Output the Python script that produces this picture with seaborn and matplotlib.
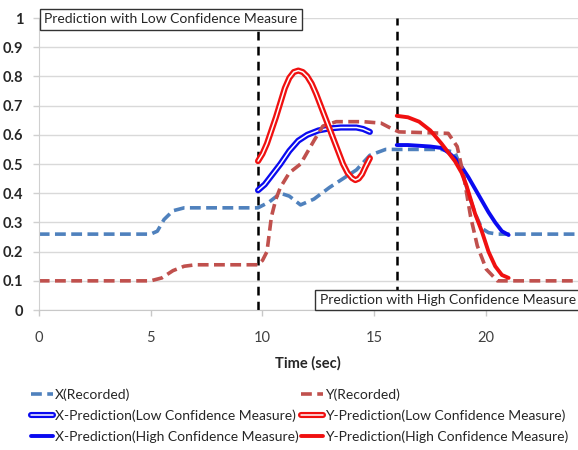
import numpy as np
import pandas as pd
import matplotlib
matplotlib.use("Agg")
import matplotlib.pyplot as plt
import matplotlib.patheffects as pe
import seaborn as sns

# ---- data ----
x_rec_t = [0, 5.0, 5.3, 5.6, 6.0, 6.5, 9.0, 9.8, 10.3, 10.8, 11.2, 11.7, 12.3, 13.0,
           13.6, 14.2, 14.8, 15.5, 16.5, 18.0, 18.6, 18.9, 19.2, 19.5, 19.8, 20.1, 20.5, 24.1]
x_rec_v = [0.26, 0.26, 0.27, 0.31, 0.34, 0.35, 0.35, 0.35, 0.37, 0.40, 0.39, 0.36, 0.38, 0.42,
           0.45, 0.48, 0.53, 0.55, 0.55, 0.55, 0.54, 0.48, 0.40, 0.33, 0.28, 0.265, 0.26, 0.26]

y_rec_t = [0, 5.0, 5.5, 6.0, 6.5, 7.0, 9.8, 10.0, 10.2, 10.4, 10.6, 10.8, 11.2, 11.7, 12.3,
           12.7, 13.3, 14.5, 15.3, 15.8, 16.1, 18.3, 18.7, 19.0, 19.3, 19.6, 20.0, 20.5, 24.1]
y_rec_v = [0.10, 0.10, 0.11, 0.135, 0.15, 0.155, 0.155, 0.17, 0.20, 0.32, 0.38, 0.42, 0.47,
           0.50, 0.58, 0.63, 0.645, 0.645, 0.64, 0.62, 0.61, 0.605, 0.56, 0.455, 0.32, 0.22,
           0.14, 0.10, 0.10]

x_low_t = [9.8, 10.1, 10.4, 10.8, 11.2, 11.6, 12.0, 12.5, 13.0, 13.5, 14.2, 14.5, 14.8]
x_low_v = [0.41, 0.43, 0.46, 0.50, 0.545, 0.58, 0.60, 0.615, 0.622, 0.625, 0.625, 0.62, 0.61]

y_low_t = [9.8, 10.0, 10.2, 10.4, 10.6, 10.8, 11.0, 11.2, 11.4, 11.6, 11.8, 12.0, 12.2, 12.4,
           12.7, 13.0, 13.3, 13.6, 13.8, 14.0, 14.15, 14.3, 14.45, 14.6, 14.8]
y_low_v = [0.51, 0.535, 0.57, 0.615, 0.66, 0.71, 0.76, 0.795, 0.815, 0.82, 0.815, 0.80, 0.775,
           0.74, 0.68, 0.62, 0.56, 0.50, 0.47, 0.452, 0.445, 0.45, 0.465, 0.49, 0.52]

x_high_t = [16.0, 16.5, 17.5, 18.0, 18.3, 18.6, 18.9, 19.2, 19.5, 19.8, 20.1, 20.4, 20.7, 21.0]
x_high_v = [0.565, 0.565, 0.56, 0.555, 0.54, 0.52, 0.49, 0.455, 0.415, 0.375, 0.335, 0.30,
            0.27, 0.257]

y_high_t = [16.0, 16.5, 17.0, 17.5, 18.0, 18.3, 18.6, 18.9, 19.1, 19.3, 19.5, 19.8, 20.1,
            20.4, 20.7, 21.0]
y_high_v = [0.665, 0.66, 0.645, 0.615, 0.57, 0.54, 0.51, 0.47, 0.43, 0.38, 0.33, 0.27, 0.20,
            0.15, 0.12, 0.11]

boundaries = [9.8, 16.0]
x_ticks = [0, 5, 10, 15, 20]
y_ticks = [0, 0.1, 0.2, 0.3, 0.4, 0.5, 0.6, 0.7, 0.8, 0.9, 1]

sns.set_style("white")
plt.rcParams['font.family'] = ['Lato', 'DejaVu Sans']

fig = plt.figure(figsize=(5.78, 4.5), dpi=100)
ax = fig.add_axes([0.067, 0.311, 0.933, 0.649])

blue_rec = "#4F81BD"
red_rec = "#C0504D"
blue = "#0a0af0"
red = "#f01010"

dash = (3, 1.5)
double_fx = lambda c: [pe.Stroke(linewidth=4.4, foreground=c), pe.Normal()]

sns.lineplot(x=x_rec_t, y=x_rec_v, ax=ax, color=blue_rec, lw=2.6, dashes=False,
             linestyle=(0, dash), label="X(Recorded)", sort=False)
sns.lineplot(x=x_low_t, y=x_low_v, ax=ax, color="white", lw=1.1, sort=False,
             path_effects=double_fx(blue), label="X-Prediction(Low Confidence Measure)")
sns.lineplot(x=x_high_t, y=x_high_v, ax=ax, color=blue, lw=2.8, sort=False,
             label="X-Prediction(High Confidence Measure)")
sns.lineplot(x=y_rec_t, y=y_rec_v, ax=ax, color=red_rec, lw=2.6, dashes=False,
             linestyle=(0, dash), label="Y(Recorded)", sort=False)
sns.lineplot(x=y_low_t, y=y_low_v, ax=ax, color="white", lw=1.1, sort=False,
             path_effects=double_fx(red), label="Y-Prediction(Low Confidence Measure)")
sns.lineplot(x=y_high_t, y=y_high_v, ax=ax, color=red, lw=2.8, sort=False,
             label="Y-Prediction(High Confidence Measure)")

for b in boundaries:
    ax.axvline(b, color="black", lw=1.8, linestyle=(0, (3.5, 2.5)), zorder=1)

ax.set_xlim(0, 24.1)
ax.set_ylim(0, 1)
ax.set_xticks(x_ticks)
ax.set_yticks(y_ticks)
ax.set_yticklabels([f"{v:g}" for v in y_ticks], fontweight="bold")
ax.yaxis.grid(True, color="#d9d9d9", lw=1)
ax.set_axisbelow(True)
for s in ["top", "right"]:
    ax.spines[s].set_visible(False)
ax.spines["bottom"].set_color("#c8c8c8")
ax.spines["left"].set_color("#d0d0d0")
ax.tick_params(axis="y", length=4, width=1, color="#d0d0d0", pad=7, labelsize=10.5,
               labelcolor="#262626", left=True)
ax.tick_params(axis="x", length=4, width=1, color="#c8c8c8", pad=11, labelsize=10.5,
               labelcolor="#404040", bottom=True)
ax.set_xlabel("Time (sec)", fontsize=10.5, fontweight="bold", labelpad=8)
ax.set_ylabel("")

box = dict(boxstyle="square,pad=0.3", facecolor="white", edgecolor="#333333", lw=1)
ax.text(0.25, 0.995, "Prediction with Low Confidence Measure", fontsize=10,
        va="center", ha="left", bbox=box, clip_on=False, zorder=5)
ax.text(12.55, 0.035, "Prediction with High Confidence Measure", fontsize=10,
        va="center", ha="left", bbox=box, clip_on=False, zorder=5)

ax.legend(ncol=2, loc="upper left", bbox_to_anchor=(-0.025, -0.248), frameon=False,
          fontsize=10, handlelength=1.6, handletextpad=0.15, columnspacing=0.15,
          labelspacing=0.62, borderaxespad=0)

fig.savefig("out.png", dpi=100)
